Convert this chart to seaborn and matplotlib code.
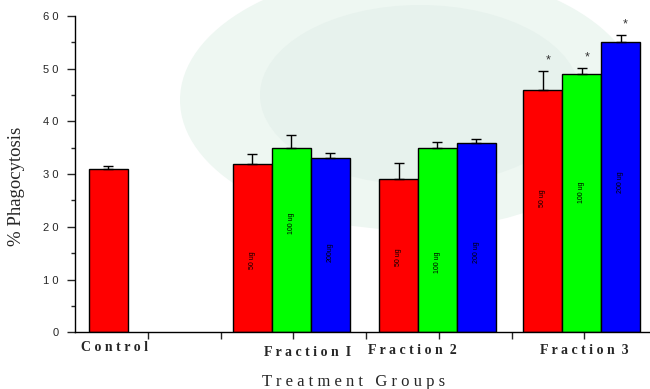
import numpy as np
import pandas as pd
import matplotlib
matplotlib.use("Agg")
import matplotlib.pyplot as plt
from matplotlib.patches import Ellipse
import seaborn as sns

# data
groups = ["Control", "Fraction I", "Fraction 2", "Fraction 3"]
doses = ["Control", "50 ug", "100 ug", "200 ug"]
control_mean = [31]
control_err = [0.5]
frac1_mean = [32, 35, 33]
frac1_err = [1.9, 2.4, 1.1]
frac2_mean = [29, 35, 36]
frac2_err = [3.1, 1.1, 0.6]
frac3_mean = [46, 49, 55]
frac3_err = [3.6, 1.1, 1.4]
frac3_sig = ["*", "*", "*"]
bar_text = [["50 ug", "100 ug", "200ug"],
            ["50 ug", "100 ug", "200 ug"],
            ["50 ug", "100 ug", "200 ug"]]
ytick_vals = [0, 10, 20, 30, 40, 50, 60]

# layout (x in tick units)
w = 0.535
centers = [0.46, 2.97, 4.98, 6.96]
text_y = [[13.7, 20.7, 15.2], [14.3, 13.3, 15.2], [25.5, 26.6, 28.5]]

rows = [{"pos": centers[0], "value": control_mean[0], "err": control_err[0], "dose": "Control"}]
for gi, (m, e) in enumerate([(frac1_mean, frac1_err), (frac2_mean, frac2_err), (frac3_mean, frac3_err)]):
    for k in range(3):
        rows.append({"pos": centers[gi + 1] + (k - 1) * w, "value": m[k], "err": e[k], "dose": doses[k + 1]})
df = pd.DataFrame(rows)


def spaced(s):
    # the original uses wide letter spacing
    return " ".join(s)


sns.set_style("ticks")
plt.rcParams["font.family"] = ["Liberation Sans", "DejaVu Sans"]

fig = plt.figure(figsize=(6.5, 3.89), dpi=100)

# faint watermark in the background
bg = fig.add_axes([0, 0, 1, 1], zorder=-1)
bg.set_xlim(0, 650)
bg.set_ylim(389, 0)
bg.axis("off")
bg.add_patch(Ellipse((410, 100), 460, 260, color="#eef7f2", lw=0))
bg.add_patch(Ellipse((420, 95), 320, 180, color="#e7f2ed", lw=0))

ax = fig.add_axes([0.1154, 0.1458, 0.8846, 0.8131])
ax.patch.set_alpha(0)

palette = {"Control": "#ff0000", "50 ug": "#ff0000", "100 ug": "#00ff00", "200 ug": "#0000ff"}
sns.barplot(data=df, x="pos", y="value", hue="dose", palette=palette, native_scale=True,
            dodge=False, width=1, errorbar=None, edgecolor="black", linewidth=1,
            saturation=1, legend=False, ax=ax)

ax.errorbar(df["pos"], df["value"], yerr=[np.zeros(len(df)), df["err"]], fmt="none",
            ecolor="black", elinewidth=1, capsize=3.5, capthick=1, zorder=5)

# labels inside the bars
for gi in range(3):
    for k in range(3):
        ax.text(centers[gi + 1] + (k - 1) * w, text_y[gi][k], bar_text[gi][k], rotation=90,
                ha="center", va="center", fontsize=5, color="black")

# significance stars
f3 = df[df["pos"] > 6]
for (p, v, e), s in zip(f3[["pos", "value", "err"]].values, frac3_sig):
    ax.text(p + 0.07, v + e + 0.9, s, ha="center", va="bottom", fontsize=9, color="#333333")

ax.set_xlim(0, 7.9)
ax.set_ylim(0, 60)
ax.set_xticks(range(1, 8))
ax.set_xticklabels([])
ax.set_yticks(ytick_vals)
ax.set_yticklabels([spaced(str(v)) for v in ytick_vals])
ax.set_yticks(range(5, 60, 10), minor=True)
ax.tick_params(axis="y", which="major", length=6, width=1, labelsize=8, pad=6)
ax.tick_params(axis="y", which="minor", length=3, width=1)
ax.tick_params(axis="x", which="major", length=5, width=1)
for sp in ["top", "right"]:
    ax.spines[sp].set_visible(False)
for sp in ["left", "bottom"]:
    ax.spines[sp].set_linewidth(1)
    ax.spines[sp].set_color("black")

ax.set_xlabel("")
ax.set_ylabel("")
fig.text(17 / 650, 1 - 186 / 389, "% Phagocytosis", rotation=90, ha="center", va="center",
         family="Liberation Serif", fontsize=13.5)

group_x = [0.54, 3.2, 4.64, 7.0]
group_y = [-2.9, -3.9, -3.4, -3.4]
for gx, gy, name in zip(group_x, group_y, groups):
    ax.text(gx, gy, spaced(name).replace("   ", "  "), ha="center", va="center", fontsize=10,
            fontweight="bold", family="Liberation Serif")

ax.text(0.485, -0.158, spaced("Treatment Groups"), transform=ax.transAxes, ha="center",
        va="center", fontsize=12, family="Liberation Serif")

fig.savefig("out.png", dpi=100)
